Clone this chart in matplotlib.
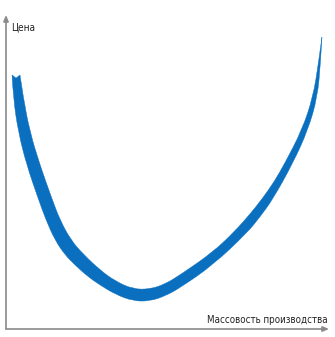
import matplotlib
matplotlib.use("Agg")
import matplotlib.pyplot as plt
from matplotlib.path import Path
from matplotlib.patches import PathPatch

# Chart units: x = mass production (0-100), y = price (0-100)
outer_x = [1.86, 2.26, 3.81, 6.41, 9.91, 12.38, 15.17, 18.27, 21.36, 25.08, 29.10,
           33.75, 39.32, 44.58, 49.23, 53.87, 64.09, 74.61, 78.64, 82.66, 88.86,
           93.50, 96.44, 97.37, 97.83]
outer_y = [80.9, 73.6, 62.7, 52.2, 41.7, 34.7, 28.3, 23.6, 20.4, 16.9, 14.0,
           11.1, 8.9, 8.9, 10.5, 13.1, 20.4, 30.6, 35.7, 41.4, 52.9,
           63.4, 73.9, 84.7, 93.0]
inner_x = [97.68, 96.75, 95.05, 91.64, 86.38, 82.97, 79.26, 75.54, 70.90, 64.09,
           53.87, 49.23, 44.58, 39.32, 33.75, 29.10, 23.84, 20.12, 16.72, 14.15,
           10.53, 7.43, 5.36, 4.33]
inner_y = [92.0, 84.7, 73.9, 63.4, 52.9, 46.8, 41.4, 36.6, 31.2, 24.5,
           17.2, 14.3, 12.7, 12.7, 15.3, 18.8, 23.9, 28.3, 34.7, 41.7,
           52.2, 62.7, 73.6, 80.9]
notch_x = [3.10]
notch_y = [79.9]

y_label = "Цена"
x_label = "Массовость производства"


def smooth_segment(xs, ys, verts, codes, start):
    """Quadratic B-spline style path through the read edge points."""
    pts = list(zip(xs, ys))
    verts.append(pts[0])
    codes.append(Path.MOVETO if start else Path.LINETO)
    for i in range(1, len(pts) - 1):
        mid = ((pts[i][0] + pts[i + 1][0]) / 2, (pts[i][1] + pts[i + 1][1]) / 2)
        if i == len(pts) - 2:
            mid = pts[i + 1]
        verts.append(pts[i]); codes.append(Path.CURVE3)
        verts.append(mid); codes.append(Path.CURVE3)


fig = plt.figure(figsize=(3.35, 3.37), dpi=100)
ax = fig.add_axes([6 / 335, 8 / 337, 323 / 335, 314 / 337])
ax.set_xlim(0, 100)
ax.set_ylim(0, 100)
ax.axis("off")

verts, codes = [], []
smooth_segment(outer_x, outer_y, verts, codes, True)
smooth_segment(inner_x, inner_y, verts, codes, False)
for nx, ny in zip(notch_x, notch_y):
    verts.append((nx, ny)); codes.append(Path.LINETO)
verts.append((outer_x[0], outer_y[0])); codes.append(Path.CLOSEPOLY)
band = PathPatch(Path(verts, codes), facecolor="#0a6fbf", edgecolor="#0a6fbf",
                 lw=0.3, zorder=3)
ax.add_patch(band)

axis_color = "#8a8a8a"
arrow = dict(arrowstyle="-|>,head_length=0.35,head_width=0.15", color=axis_color,
             lw=1.2, shrinkA=0, shrinkB=0)
ax.annotate("", xy=(100, 0), xytext=(0, 0), arrowprops=arrow, annotation_clip=False)
ax.annotate("", xy=(0, 100), xytext=(0, 0), arrowprops=arrow, annotation_clip=False)

ax.text(1.5, 95.2, y_label, ha="left", va="baseline", fontsize=7.2,
        family="DejaVu Sans", fontstretch="condensed", color="#222222")
ax.text(99.7, 1.9, x_label, ha="right", va="baseline", fontsize=7.0,
        family="DejaVu Sans", fontstretch="condensed", color="#222222")

fig.savefig("out.png", dpi=100)
